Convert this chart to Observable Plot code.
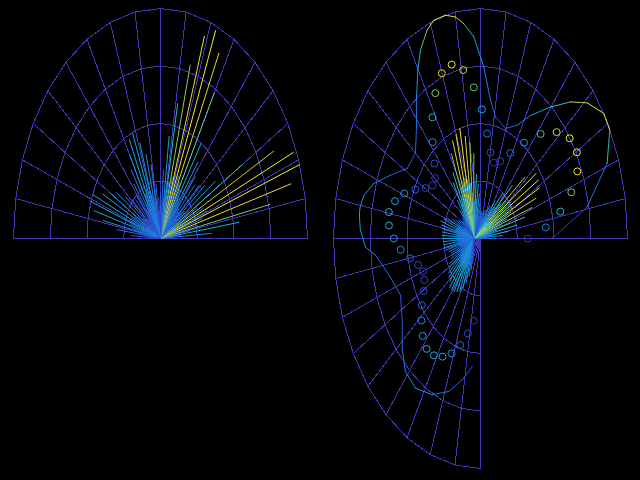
<!DOCTYPE html>
<html>
<head>
<meta charset="utf-8">
<script src="https://cdn.jsdelivr.net/npm/d3@7"></script>
<script src="https://cdn.jsdelivr.net/npm/@observablehq/plot@0.6"></script>
<style>
  html, body { margin: 0; padding: 0; background: #000; }
  #chart { position: relative; width: 640px; height: 480px; background: #000; overflow: hidden; }
</style>
</head>
<body>
<div id="chart"></div>
<script>
// grid ticks
const ringRadii = [0.25, 0.5, 0.75, 1];
const leftSpokeAngles = [0, 10, 20, 30, 40, 50, 60, 70, 80, 90, 100, 110, 120, 130, 140, 150, 160, 170, 180];
const rightSpokeAngles = [0, 10, 20, 30, 40, 50, 60, 70, 80, 90, 100, 110, 120, 130, 140, 150, 160, 170, 180,
  190, 200, 210, 220, 230, 240, 250, 260, 270];

// left panel: rays every 1.875 deg from 0 to 180
const leftRayStep = 1.875;
const leftRayLen = [
  0.10, 0.08, 0.35, 0.14, 0.54, 0.20, 0.76, 0.26, 0.92, 0.30, 1.00, 0.34, 0.98, 0.32, 0.86, 0.28,
  0.65, 0.24, 0.45, 0.20, 0.38, 0.18, 0.35, 0.17, 0.33, 0.18, 0.36, 0.20, 0.42, 0.22, 0.50, 0.25,
  0.73, 0.28, 0.90, 0.30, 0.98, 0.30, 0.93, 0.28, 0.78, 0.25, 0.60, 0.20, 0.45, 0.17, 0.30, 0.14,
  0.20, 0.12, 0.18, 0.12, 0.24, 0.15, 0.33, 0.18, 0.38, 0.20, 0.44, 0.22, 0.50, 0.24, 0.48, 0.22,
  0.42, 0.18, 0.36, 0.15, 0.30, 0.13, 0.26, 0.12, 0.24, 0.12, 0.26, 0.13, 0.30, 0.15, 0.36, 0.18,
  0.40, 0.20, 0.44, 0.22, 0.50, 0.23, 0.51, 0.22, 0.47, 0.20, 0.40, 0.16, 0.30, 0.12, 0.20, 0.08,
  0.10
];

// right panel: rays every 1.875 deg from 0 to 270
const rightRayStep = 1.875;
const rightRayLen = [
  0.15, 0.08, 0.20, 0.10, 0.24, 0.12, 0.30, 0.16, 0.36, 0.20, 0.42, 0.24, 0.46, 0.28, 0.50, 0.30,
  0.51, 0.30, 0.51, 0.28, 0.44, 0.24, 0.35, 0.20, 0.28, 0.16, 0.22, 0.13, 0.18, 0.10, 0.15, 0.09,
  0.14, 0.08, 0.13, 0.08, 0.13, 0.08, 0.14, 0.08, 0.16, 0.09, 0.20, 0.11, 0.24, 0.13, 0.28, 0.16,
  0.37, 0.20, 0.42, 0.24, 0.45, 0.26, 0.49, 0.27, 0.47, 0.26, 0.45, 0.24, 0.40, 0.20, 0.32, 0.17,
  0.28, 0.14, 0.20, 0.10, 0.15, 0.08, 0.12, 0.07, 0.11, 0.07, 0.12, 0.07, 0.13, 0.08, 0.15, 0.09,
  0.17, 0.10, 0.20, 0.12, 0.22, 0.13, 0.24, 0.13, 0.23, 0.13, 0.22, 0.12, 0.22, 0.12, 0.22, 0.12,
  0.22, 0.12, 0.21, 0.11, 0.21, 0.11, 0.21, 0.11, 0.20, 0.10, 0.18, 0.10, 0.17, 0.09, 0.17, 0.09,
  0.18, 0.10, 0.20, 0.11, 0.21, 0.12, 0.23, 0.13, 0.24, 0.14, 0.25, 0.14, 0.27, 0.15, 0.27, 0.15,
  0.27, 0.15, 0.26, 0.14, 0.25, 0.13, 0.23, 0.12, 0.20, 0.10, 0.17, 0.09, 0.14, 0.08, 0.11, 0.06,
  0.08
];

// right panel: circles every 5.625 deg from 0 to 270
const circleStep = 5.625;
const circleLen = [
  0.367, 0.492, 0.600, 0.693, 0.762, 0.795, 0.784, 0.729, 0.643, 0.539, 0.447, 0.381, 0.357,
  0.391, 0.465, 0.564, 0.657, 0.736, 0.771, 0.751, 0.684, 0.597, 0.504, 0.422, 0.372, 0.363,
  0.395, 0.451, 0.512, 0.560, 0.589, 0.580, 0.544, 0.500, 0.443, 0.396, 0.373, 0.382, 0.411,
  0.457, 0.504, 0.548, 0.577, 0.576, 0.556, 0.522, 0.472, 0.415, 0.357
];

// right panel: open curve (angle deg, radius, colour level)
const curveAngle = [0, 10.1, 19.8, 27, 31.6, 37.4, 42.1, 47.6, 54.2, 59.1, 65.7, 74.4, 79.3, 84.8, 90,
  94.2, 97.4, 101.2, 106, 109.3, 113.9, 117.5, 123, 128.8, 137, 146.1, 154.1, 160.6, 165.9, 171,
  177.3, 182.9, 186.1, 195.3, 206.2, 216.6, 224.4, 231.2, 238.6, 247.4, 255.7, 263.6, 268.9];
const curveLen = [0.533, 0.783, 0.964, 1.038, 1.038, 0.971, 0.886, 0.774, 0.66, 0.574, 0.525, 0.549,
  0.612, 0.749, 0.877, 0.937, 0.971, 0.99, 0.987, 0.96, 0.896, 0.825, 0.717, 0.622, 0.543, 0.546,
  0.63, 0.721, 0.771, 0.786, 0.772, 0.738, 0.673, 0.599, 0.556, 0.606, 0.682, 0.742, 0.762, 0.736,
  0.686, 0.611, 0.557];
const curveLevel = [0.1, 0.3, 0.6, 0.9, 0.95, 0.85, 0.65, 0.45, 0.35, 0.25, 0.2, 0.25, 0.35, 0.45, 0.6,
  0.85, 0.9, 0.95, 0.9, 0.7, 0.55, 0.4, 0.3, 0.25, 0.2, 0.25, 0.3, 0.4, 0.45, 0.45, 0.4, 0.35, 0.3,
  0.25, 0.2, 0.25, 0.3, 0.35, 0.4, 0.3, 0.25, 0.2, 0.15];

// parula-like colour ramp
const colorStops = [0, 0.2, 0.35, 0.5, 0.62, 0.75, 0.88, 1];
const colorRamp = ["#3a2c9c", "#2f52dc", "#1a84e0", "#12aede", "#22bfb6", "#72c878", "#e0d040", "#f8f020"];
const gridColor = "#4035b8";

const rad = (a) => a * Math.PI / 180;
const px = (a, r) => r * Math.cos(rad(a));
const py = (a, r) => r * Math.sin(rad(a));

const leftRays = leftRayLen.map((len, i) => ({a: i * leftRayStep, len}));
const rightRays = rightRayLen.map((len, i) => ({a: i * rightRayStep, len}));
const circles = circleLen.map((len, i) => ({a: i * circleStep, len}));
const curve = curveAngle.map((a, i) => ({a, len: curveLen[i], c: curveLevel[i]}));
const leftMax = d3.max(leftRayLen);
const rightMax = d3.max(rightRayLen);
const circleMin = d3.min(circleLen), circleMax = d3.max(circleLen);

function gridMarks(angles) {
  const ringPts = ringRadii.flatMap(r => angles.map(a => ({a, r})));
  return [
    Plot.link(angles, {x1: 0, y1: 0, x2: a => px(a, 1), y2: a => py(a, 1), stroke: gridColor,
      strokeWidth: 1, shapeRendering: "crispEdges"}),
    Plot.line(ringPts, {x: d => px(d.a, d.r), y: d => py(d.a, d.r), z: "r", stroke: gridColor,
      strokeWidth: 1, shapeRendering: "crispEdges"})
  ];
}

function panel(xRange, marks) {
  return Plot.plot({
    width: 640,
    height: 480,
    margin: 0,
    x: {domain: [-1, 1], range: xRange, axis: null},
    y: {domain: [-1, 1], range: [468, 8], axis: null},
    color: {type: "linear", domain: colorStops, range: colorRamp},
    style: {background: "transparent", position: "absolute", left: "0px", top: "0px", maxWidth: "none"},
    marks
  });
}

const left = panel([13, 307], [
  ...gridMarks(leftSpokeAngles),
  Plot.link(leftRays, {x1: 0, y1: 0, x2: d => px(d.a, d.len), y2: d => py(d.a, d.len),
    stroke: d => d.len / leftMax, strokeWidth: 1})
]);

const rightGrid = panel([333, 627], gridMarks(rightSpokeAngles));

const rightData = panel([326.3, 620.3], [
  Plot.link(rightRays, {x1: 0, y1: 0, x2: d => px(d.a, d.len), y2: d => py(d.a, d.len),
    stroke: d => d.len / rightMax, strokeWidth: 1}),
  Plot.line(curve, {x: d => px(d.a, d.len), y: d => py(d.a, d.len), z: null, stroke: "c",
    curve: "catmull-rom", strokeWidth: 1}),
  Plot.dot(circles, {x: d => px(d.a, d.len), y: d => py(d.a, d.len), r: 3.5, fill: "none",
    stroke: d => 0.05 + 0.95 * (d.len - circleMin) / (circleMax - circleMin), strokeWidth: 1})
]);

const chart = document.getElementById("chart");
chart.append(left, rightGrid, rightData);
</script>
</body>
</html>
